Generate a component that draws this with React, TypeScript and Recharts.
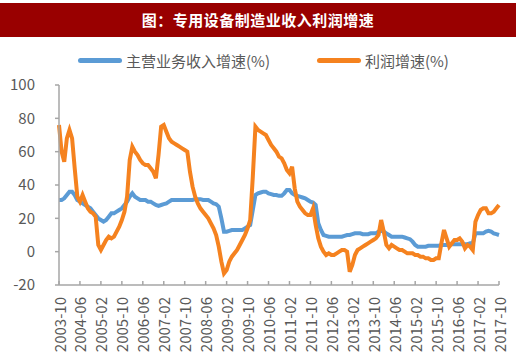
import React from "react";
import { LineChart, Line, XAxis, YAxis } from "recharts";

const startYear = 2003;
const startMonth = 10;

const revenueGrowth = [
  31, 31, 32, 34, 36, 36, 34, 31, 30, 29, 28, 27, 26, 24, 22, 20, 19, 18, 19, 21,
  23, 23, 24, 25, 26, 28, 30, 33, 35, 33, 32, 31, 31, 31, 30, 30, 29, 28, 27.5, 28,
  28.5, 29, 30, 31, 31, 31, 31, 31, 31, 31, 31, 31, 31.5, 31.5, 31.5, 31, 31, 31, 30, 29,
  28.5, 27, 20, 12, 12, 12.5, 13, 13, 13, 13, 13, 14, 15, 16, 25, 34, 35, 35.5, 36, 36,
  35, 34.5, 34, 34, 33.5, 33.5, 35, 37, 37, 35, 34, 33.5, 33, 32.5, 32, 31, 30, 29.5, 28, 17,
  13, 10, 9.5, 9, 9, 9, 9, 9, 9, 9.5, 10, 10, 10.5, 11, 11, 11, 10.5, 10.5, 10.5, 11,
  11, 11, 12, 12.5, 12, 11, 10, 9, 9, 9, 9, 9, 8.5, 8, 7.5, 6, 4, 3, 3, 3,
  3, 3.5, 3.5, 3.5, 3.5, 3.5, 4, 4, 4, 4.5, 4.5, 4.5, 4.5, 4.5, 4.5, 4.5, 4.5, 5, 5, 11,
  11, 11, 11, 12, 12.5, 12, 11, 10.5, 10,
];

const profitGrowth = [
  76, 60, 54, 68, 73, 68, 50, 33, 30, 34, 30, 26, 24, 23, 21, 4, 1, 4, 7, 9,
  8, 9, 12, 15, 19, 24, 33, 55, 63, 60, 58, 55, 53, 52, 52, 50, 48, 44, 58, 75,
  76, 72, 68, 66, 65, 64, 63, 62, 61, 60, 48, 39, 33, 29, 26, 24, 22, 20, 17, 14,
  10, 3, -6, -13, -11, -6, -3, -1, 1, 4, 7, 10, 14, 19, 45, 75, 73, 72, 71, 70,
  67, 64, 62, 60, 57, 56, 53, 49, 47, 51, 38, 30, 27, 25, 23, 22, 22, 26, 16, 8,
  3, 0, -2, -1, -2, -2, -1, 0, 1, 1, 0, -12, -8, -2, 1, 2, 3, 4, 5, 6,
  7, 8, 10, 19, 12, 4, 2, 4, 3, 2, 1, 1, 0, -1, -1, -1, -2, -2, -3, -3,
  -4, -4, -5, -5, -4, -4, 5, 13, 8, 3, 5, 7, 7, 8, 6, 2, 4, 3, 1, 18,
  22, 25, 26, 26, 23, 23, 24, 26, 28,
];

const months = revenueGrowth.map((_, i) => {
  const total = startMonth - 1 + i;
  const y = startYear + Math.floor(total / 12);
  const m = (total % 12) + 1;
  return `${y}-${m < 10 ? "0" + m : m}`;
});

const tickLabels = [
  "2003-10", "2004-06", "2005-02", "2005-10", "2006-06", "2007-02", "2007-10",
  "2008-06", "2009-02", "2009-10", "2010-06", "2011-02", "2011-10", "2012-06",
  "2013-02", "2013-10", "2014-06", "2015-02", "2015-10", "2016-06", "2017-02", "2017-10",
];

const yTicks = [-20, 0, 20, 40, 60, 80, 100];

const seriesNames = ["主营业务收入增速(%)", "利润增速(%)"];
const title = "图：专用设备制造业收入利润增速";

const data = months.map((month, i) => ({
  month,
  revenue: revenueGrowth[i],
  profit: profitGrowth[i],
}));

const FONT = '"Noto Sans CJK SC", "Noto Sans", sans-serif';
const BLUE = "#5B9BD5";
const ORANGE = "#F5821F";
const TEXT = "#595959";
const AXIS = "#A6A6A6";

const XTick = (props: any) => {
  const { x, y, payload } = props;
  return (
    <text
      x={x}
      y={y}
      transform={`rotate(-90 ${x} ${y})`}
      textAnchor="end"
      dominantBaseline="central"
      fontFamily={FONT}
      fontSize={15}
      fill={TEXT}
    >
      {payload.value}
    </text>
  );
};

export default function App() {
  return (
    <div
      style={{
        position: "absolute",
        left: 0,
        top: 0,
        width: 520,
        height: 364,
        background: "#fff",
        fontFamily: FONT,
      }}
    >
      <div
        style={{
          position: "absolute",
          left: 0,
          top: 3,
          width: 516,
          height: 34,
          background: "#990000",
          color: "#fff",
          fontWeight: "bold",
          fontSize: 15,
          lineHeight: "34px",
          textAlign: "center",
          letterSpacing: 0.5,
        }}
      >
        {title}
      </div>
      <div
        style={{
          position: "absolute",
          left: 78,
          top: 49,
          height: 22,
          display: "flex",
          alignItems: "center",
          color: TEXT,
          fontSize: 15,
        }}
      >
        <div style={{ width: 44, height: 5, borderRadius: 3, background: BLUE, marginRight: 4 }} />
        <span>{seriesNames[0]}</span>
        <div style={{ width: 44, height: 5, borderRadius: 3, background: ORANGE, marginLeft: 47, marginRight: 4 }} />
        <span>{seriesNames[1]}</span>
      </div>
      <LineChart
        width={520}
        height={364}
        data={data}
        margin={{ top: 85, right: 21, bottom: 0, left: 0 }}
      >
        <XAxis
          dataKey="month"
          scale="point"
          padding={{ left: 0, right: 0 }}
          ticks={tickLabels}
          interval={0}
          height={79}
          tickSize={-4}
          tickMargin={16}
          tick={<XTick />}
          stroke={AXIS}
          strokeWidth={1.5}
        />
        <YAxis
          domain={[-20, 100]}
          ticks={yTicks}
          width={59}
          tickSize={4}
          tickMargin={20}
          stroke={AXIS}
          strokeWidth={1.5}
          tick={{ fill: TEXT, fontSize: 15, fontFamily: FONT }}
        />
        <Line
          type="linear"
          dataKey="revenue"
          stroke={BLUE}
          strokeWidth={4}
          dot={false}
          isAnimationActive={false}
        />
        <Line
          type="linear"
          dataKey="profit"
          stroke={ORANGE}
          strokeWidth={4}
          dot={false}
          isAnimationActive={false}
        />
      </LineChart>
    </div>
  );
}
